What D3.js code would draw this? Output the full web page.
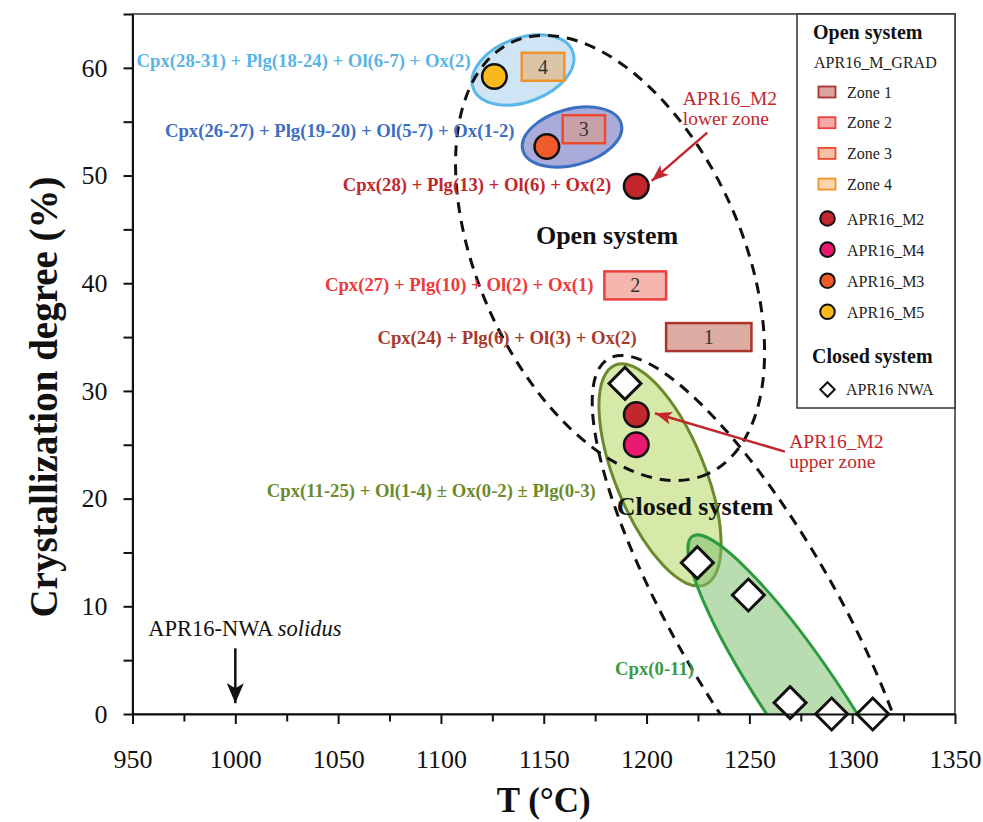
<!DOCTYPE html>
<html>
<head>
<meta charset="utf-8">
<script src="https://cdn.jsdelivr.net/npm/d3@7"></script>
<style>
  body { margin: 0; background: #fff; }
  svg { display: block; font-family: "Liberation Serif", "Times New Roman", serif; }
</style>
</head>
<body>
<div id="chart"></div>
<script>
// ---------------------------------------------------------------
// Data (T in degC, crystallization degree in %)
// ---------------------------------------------------------------
var xTicks = [950, 1000, 1050, 1100, 1150, 1200, 1250, 1300, 1350];
var xMinorTicks = [975, 1025, 1075, 1125, 1175, 1225, 1275, 1325];
var yTicks = [0, 10, 20, 30, 40, 50, 60];
var yMinorTicks = [5, 15, 25, 35, 45, 55, 65];

// open system runs (circles)
var meltSamples = ["APR16_M2", "APR16_M4", "APR16_M3", "APR16_M5"];
var meltColors = ["#c1272d", "#e8196f", "#f15a29", "#f8b91c"];
var meltPointSample = ["APR16_M5", "APR16_M3", "APR16_M2", "APR16_M2", "APR16_M4"];
var meltPointT = [1126, 1151.5, 1195, 1195, 1195];
var meltPointX = [59.2, 52.7, 49.0, 27.8, 25.0];

// closed system APR16 NWA (diamonds)
var nwaT = [1189.5, 1224.7, 1249.5, 1269.8, 1290, 1310];
var nwaX = [30.7, 14.05, 11.05, 1.05, 0, 0];

// APR16_M_GRAD zones
var zones = ["1", "2", "3", "4"];
var zoneT = [[1209.5, 1251], [1179.5, 1209.5], [1159.2, 1179.8], [1139.3, 1160]];
var zoneX = [[33.7, 36.3], [38.5, 41.1], [53.0, 55.6], [58.8, 61.4]];

// phase fields: long axis end points in (T, X)
var fieldNames = ["cpxOlOx", "cpx", "zone4", "zone3", "open", "closed"];
var fieldT = [[1184.7, 1228.4], [1222.3, 1329.9], [1115.7, 1164.1], [1139.8, 1187.7], [1134.8, 1229.7], [1181.5, 1324.5]];
var fieldX = [[32.4, 12.0], [16.5, -13.9], [58.1, 61.5], [52.35, 54.8], [62.4, 22.3], [33.0, -14.65]];

// phase assemblage labels and where they start (T, X)
var assemblages = [
  "Cpx(28-31) + Plg(18-24) + Ol(6-7) + Ox(2)",
  "Cpx(26-27) + Plg(19-20) + Ol(5-7) + Ox(1-2)",
  "Cpx(28) + Plg(13) + Ol(6) + Ox(2)",
  "Cpx(27) + Plg(10) + Ol(2) + Ox(1)",
  "Cpx(24) + Plg(6) + Ol(3) + Ox(2)",
  "Cpx(11-25) + Ol(1-4) \u00b1 Ox(0-2) \u00b1 Plg(0-3)",
  "Cpx(0-11)"
];
var assemblageT = [952, 965.8, 1052.2, 1043.6, 1069.1, 1015.3, 1184.7];
var assemblageX = [60.05, 53.55, 48.6, 39.3, 34.36, 20.12, 3.62];

// ---------------------------------------------------------------
// Styles / layout
// ---------------------------------------------------------------
var width = 983, height = 822;
var plot = { left: 132.5, right: 955, top: 14, bottom: 714 };

var assemblageColors = ["#5ab4e4", "#3d6ec0", "#c1272d", "#ee3a3a", "#a63b2d", "#6b8a2c", "#3a9b45"];

var fieldStyle = {
  cpxOlOx: { half: 44.7, fill: "#d6e9a9", opacity: 1, stroke: "#6b8a2c", dash: null },
  cpx:     { half: 38, fill: "#7fbf6f", opacity: 0.55, stroke: "#2e9a3f", dash: null },
  zone4:   { half: 32, fill: "#cfe5f5", opacity: 1, stroke: "#5ab7e8", dash: null },
  zone3:   { half: 28, fill: "#a9acd8", opacity: 1, stroke: "#3b6fc1", dash: null },
  open:    { half: 131.5, fill: "none", opacity: 0, stroke: "#111", dash: "11,8" },
  closed:  { half: 82, fill: "none", opacity: 0, stroke: "#111", dash: "11,8" }
};

var zoneBoxFill = ["#dcaca2", "#f4b6ad", "#c8a0a8", "#dcc5a6"];
var zoneLegendFill = ["#d9a3a0", "#f2aba6", "#f5c0a5", "#fad5ad"];
var zoneStroke = ["#a9342c", "#ee3f3f", "#ef4a30", "#f4922a"];

var meltColor = d3.scaleOrdinal().domain(meltSamples).range(meltColors);

var x = d3.scaleLinear().domain([950, 1350]).range([plot.left, plot.right]);
var y = d3.scaleLinear().domain([0, 65]).range([plot.bottom, plot.top]);

var svg = d3.select("#chart").append("svg")
    .attr("width", width)
    .attr("height", height);

var defs = svg.append("defs");
defs.append("clipPath").attr("id", "plot-clip")
  .append("rect")
    .attr("x", plot.left).attr("y", plot.top)
    .attr("width", plot.right - plot.left)
    .attr("height", plot.bottom - plot.top);

function arrowMarker(id, color, len, wid) {
  defs.append("marker")
      .attr("id", id)
      .attr("markerUnits", "userSpaceOnUse")
      .attr("viewBox", "0 0 " + len + " " + wid)
      .attr("refX", len).attr("refY", wid / 2)
      .attr("markerWidth", len).attr("markerHeight", wid)
      .attr("orient", "auto")
    .append("path")
      .attr("d", "M0,0L" + len + "," + (wid / 2) + "L0," + wid + "L" + (len * 0.25) + "," + (wid / 2) + "Z")
      .attr("fill", color);
}
arrowMarker("arrow-red", "#c1272d", 17, 13);
arrowMarker("arrow-black", "#111", 20, 17);

// frame
svg.append("rect")
    .attr("x", plot.left).attr("y", plot.top)
    .attr("width", plot.right - plot.left)
    .attr("height", plot.bottom - plot.top)
    .attr("fill", "none")
    .attr("stroke", "#333")
    .attr("stroke-width", 1.5);

var clipped = svg.append("g").attr("clip-path", "url(#plot-clip)");

// ellipse along the long axis of a phase field
function drawField(g, i) {
  var st = fieldStyle[fieldNames[i]];
  var x1 = x(fieldT[i][0]), y1 = y(fieldX[i][0]);
  var x2 = x(fieldT[i][1]), y2 = y(fieldX[i][1]);
  var cx = (x1 + x2) / 2, cy = (y1 + y2) / 2;
  var a = Math.hypot(x2 - x1, y2 - y1) / 2;
  var ang = Math.atan2(y2 - y1, x2 - x1) * 180 / Math.PI;
  g.append("ellipse")
      .attr("cx", cx).attr("cy", cy)
      .attr("rx", a).attr("ry", st.half)
      .attr("transform", "rotate(" + ang + "," + cx + "," + cy + ")")
      .attr("fill", st.fill)
      .attr("fill-opacity", st.opacity)
      .attr("stroke", st.stroke)
      .attr("stroke-width", 3)
      .attr("stroke-dasharray", st.dash);
}

// filled fields first
[0, 1, 2, 3].forEach(function(i) { drawField(clipped, i); });

// zone boxes
var boxes = svg.append("g");
zones.forEach(function(z, i) {
  var x0 = x(zoneT[i][0]), x1 = x(zoneT[i][1]);
  var yTop = y(zoneX[i][1]), yBot = y(zoneX[i][0]);
  boxes.append("rect")
      .attr("x", x0).attr("y", yTop)
      .attr("width", x1 - x0).attr("height", yBot - yTop)
      .attr("fill", zoneBoxFill[i])
      .attr("stroke", zoneStroke[i])
      .attr("stroke-width", 2.5);
  boxes.append("text")
      .attr("x", (x0 + x1) / 2).attr("y", (yTop + yBot) / 2)
      .attr("dy", "0.35em")
      .attr("text-anchor", "middle")
      .attr("font-size", 20)
      .attr("fill", "#333")
      .text(z);
});

// assemblage labels
svg.append("g").selectAll("text")
  .data(assemblages)
  .enter().append("text")
    .attr("x", function(d, i) { return x(assemblageT[i]); })
    .attr("y", function(d, i) { return y(assemblageX[i]); })
    .attr("font-size", 18.7)
    .attr("font-weight", "bold")
    .attr("fill", function(d, i) { return assemblageColors[i]; })
    .text(function(d) { return d; });

svg.append("text")
    .attr("x", x(1180.8)).attr("y", y(43.6))
    .attr("text-anchor", "middle")
    .attr("font-size", 26).attr("font-weight", "bold")
    .attr("fill", "#111")
    .text("Open system");

svg.append("text")
    .attr("x", x(1185.5)).attr("y", y(18.48))
    .attr("font-size", 26).attr("font-weight", "bold")
    .attr("fill", "#111")
    .text("Closed system");

// dashed system envelopes
[4, 5].forEach(function(i) { drawField(clipped, i); });

// M2 annotations
function note(lines, T, X, color) {
  var t = svg.append("text")
      .attr("x", x(T)).attr("y", y(X))
      .attr("font-size", 19.5)
      .attr("fill", color);
  lines.forEach(function(l, k) {
    t.append("tspan").attr("x", x(T)).attr("dy", k ? 20 : 0).text(l);
  });
}
function arrow(T0, X0, T1, X1, color, marker, w) {
  svg.append("line")
      .attr("x1", x(T0)).attr("y1", y(X0))
      .attr("x2", x(T1)).attr("y2", y(X1))
      .attr("stroke", color)
      .attr("stroke-width", w)
      .attr("marker-end", "url(#" + marker + ")");
}
note(["APR16_M2", "lower zone"], 1217.6, 56.55, "#c1272d");
arrow(1229.5, 53.98, 1202.5, 49.5, "#c1272d", "arrow-red", 2.5);
note(["APR16_M2", "upper zone"], 1269.4, 24.67, "#c1272d");
arrow(1267.3, 24.36, 1204.1, 27.92, "#c1272d", "arrow-red", 2.5);

// solidus
var sol = svg.append("text")
    .attr("x", x(957.7)).attr("y", y(7.27))
    .attr("font-size", 22.5)
    .attr("fill", "#111");
sol.append("tspan").text("APR16-NWA ");
sol.append("tspan").attr("font-style", "italic").text("solidus");
arrow(1000, 6.1, 1000, 1.0, "#111", "arrow-black", 2.5);

// closed system diamonds
var diamond = d3.symbol().type(d3.symbolSquare).size(512);
svg.append("g").selectAll("path")
  .data(nwaT)
  .enter().append("path")
    .attr("d", diamond)
    .attr("transform", function(d, i) { return "translate(" + x(d) + "," + y(nwaX[i]) + ") rotate(45)"; })
    .attr("fill", "#fff")
    .attr("stroke", "#111")
    .attr("stroke-width", 3);

// melt circles
svg.append("g").selectAll("circle")
  .data(meltPointT)
  .enter().append("circle")
    .attr("cx", function(d) { return x(d); })
    .attr("cy", function(d, i) { return y(meltPointX[i]); })
    .attr("r", 12.3)
    .attr("fill", function(d, i) { return meltColor(meltPointSample[i]); })
    .attr("stroke", "#111")
    .attr("stroke-width", 2.5);

// ---------------------------------------------------------------
// Axes
// ---------------------------------------------------------------
var xAxis = d3.axisBottom(x)
    .tickValues(xTicks.concat(xMinorTicks))
    .tickSize(10).tickSizeOuter(0).tickPadding(26)
    .tickFormat(function(d) { return xTicks.indexOf(d) >= 0 ? d : ""; });
var yAxis = d3.axisLeft(y)
    .tickValues(yTicks.concat(yMinorTicks))
    .tickSize(9).tickSizeOuter(0).tickPadding(16)
    .tickFormat(function(d) { return yTicks.indexOf(d) >= 0 ? d : ""; });

var gx = svg.append("g")
    .attr("transform", "translate(0," + plot.bottom + ")")
    .call(xAxis);
gx.selectAll(".tick line")
    .filter(function(d) { return xTicks.indexOf(d) < 0; })
    .attr("y2", 7.5);

var gy = svg.append("g")
    .attr("transform", "translate(" + plot.left + ",0)")
    .call(yAxis);

[gx, gy].forEach(function(g) {
  g.select(".domain").attr("stroke", "#111").attr("stroke-width", 2);
  g.selectAll(".tick line").attr("stroke", "#111").attr("stroke-width", 2);
  g.selectAll(".tick text")
      .attr("font-family", "Liberation Serif, Times New Roman, serif")
      .attr("font-size", 26)
      .attr("fill", "#111");
});

svg.append("text")
    .attr("x", (plot.left + plot.right) / 2).attr("y", 812)
    .attr("text-anchor", "middle")
    .attr("font-size", 35).attr("font-weight", "bold")
    .attr("fill", "#111")
    .text("T (\u00b0C)");

svg.append("text")
    .attr("transform", "translate(57,397) rotate(-90)")
    .attr("text-anchor", "middle")
    .attr("font-size", 39).attr("font-weight", "bold")
    .attr("fill", "#111")
    .text("Crystallization degree (%)");

// ---------------------------------------------------------------
// Legend
// ---------------------------------------------------------------
var lg = svg.append("g");
lg.append("rect")
    .attr("x", 797).attr("y", plot.top)
    .attr("width", plot.right - 797).attr("height", 408 - plot.top)
    .attr("fill", "#fff")
    .attr("stroke", "#333")
    .attr("stroke-width", 1.5);

lg.append("text").attr("x", 813).attr("y", 39)
    .attr("font-size", 20).attr("font-weight", "bold").attr("fill", "#111")
    .text("Open system");
lg.append("text").attr("x", 814).attr("y", 68)
    .attr("font-size", 16).attr("fill", "#222")
    .text("APR16_M_GRAD");

zones.forEach(function(z, i) {
  var yy = 92 + i * 30.7;
  lg.append("rect")
      .attr("x", 818.5).attr("y", yy - 5.5)
      .attr("width", 17).attr("height", 11)
      .attr("fill", zoneLegendFill[i])
      .attr("stroke", zoneStroke[i])
      .attr("stroke-width", 1.8);
  lg.append("text").attr("x", 847).attr("y", yy + 5.5)
      .attr("font-size", 16).attr("fill", "#222")
      .text("Zone " + z);
});

meltSamples.forEach(function(s, i) {
  var yy = 218.5 + i * 31.1;
  lg.append("circle")
      .attr("cx", 827.5).attr("cy", yy).attr("r", 7.3)
      .attr("fill", meltColor(s))
      .attr("stroke", "#111").attr("stroke-width", 2);
  lg.append("text").attr("x", 847).attr("y", yy + 6.5)
      .attr("font-size", 16).attr("fill", "#222")
      .text(s);
});

lg.append("text").attr("x", 812).attr("y", 363)
    .attr("font-size", 20).attr("font-weight", "bold").attr("fill", "#111")
    .text("Closed system");
lg.append("path")
    .attr("d", d3.symbol().type(d3.symbolSquare).size(105))
    .attr("transform", "translate(827.5,389.5) rotate(45)")
    .attr("fill", "#fff").attr("stroke", "#111").attr("stroke-width", 2);
lg.append("text").attr("x", 846).attr("y", 395)
    .attr("font-size", 16).attr("fill", "#222")
    .text("APR16 NWA");
</script>
</body>
</html>
